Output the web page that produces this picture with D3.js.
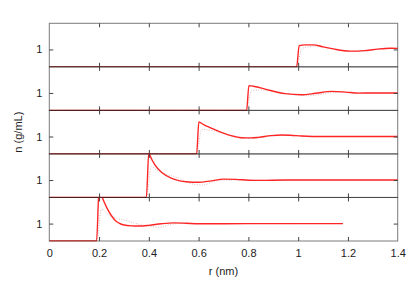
<!DOCTYPE html>
<html>
<head>
<meta charset="utf-8">
<script src="https://cdn.jsdelivr.net/npm/d3@7/dist/d3.min.js"></script>
<style>
  body { margin: 0; background: #fff; }
  svg text { font-family: "Liberation Sans", Arial, sans-serif; font-size: 11px; fill: #222; }
</style>
</head>
<body>
<svg id="chart" width="415" height="291"></svg>
<script>
// X tick labels
const xTicks = [0, 0.2, 0.4, 0.6, 0.8, 1, 1.2, 1.4];
const yTicks = [1];

// Panel 1 (top) ... Panel 5 (bottom): [r (nm), n (g/mL)]
const solid1 = [[0,0],[0.994,0],[1.004,1.22],[1.03,1.26],[1.061,1.26],[1.1,1.15],[1.141,1.03],[1.208,0.9],[1.24,0.9],[1.275,0.94],[1.32,1.02],[1.369,1.07],[1.4,1.06]];
const dotted1 = [[0,0],[0.994,0],[1.014,1.03],[1.04,1.15],[1.061,1.19],[1.1,1.12],[1.141,1.03],[1.208,0.88],[1.25,0.9],[1.3,0.97],[1.35,1.04],[1.4,1.07]];

const solid2 = [[0,0],[0.793,0],[0.802,1.42],[0.83,1.36],[0.867,1.22],[0.947,0.96],[1.014,0.9],[1.07,0.98],[1.135,1.09],[1.19,1.05],[1.242,0.99],[1.3,1.0],[1.4,1.0]];
const dotted2 = [[0,0],[0.793,0],[0.813,1.15],[0.85,1.17],[0.88,1.15],[0.947,0.99],[1.0,0.87],[1.04,0.84],[1.08,0.9],[1.12,1.0],[1.16,1.04],[1.25,1.02],[1.4,1.0]];

const solid3 = [[0,0],[0.592,0],[0.601,1.83],[0.62,1.68],[0.635,1.58],[0.653,1.47],[0.685,1.27],[0.719,1.09],[0.745,1.0],[0.773,0.93],[0.81,0.92],[0.84,0.95],[0.89,1.05],[0.934,1.09],[0.97,1.07],[1.014,1.03],[1.1,1.0],[1.4,1.0]];
const dotted3 = [[0,0],[0.592,0],[0.612,1.41],[0.635,1.38],[0.653,1.35],[0.69,1.22],[0.719,1.09],[0.75,0.97],[0.785,0.89],[0.81,0.88],[0.84,0.93],[0.9,1.04],[0.95,1.06],[1.0,1.03],[1.1,1.0],[1.4,1.0]];

const solid4 = [[0,0],[0.39,0],[0.40,2.6],[0.405,2.4],[0.425,1.86],[0.452,1.43],[0.492,1.09],[0.52,0.97],[0.55,0.9],[0.6,0.87],[0.65,0.95],[0.7,1.05],[0.75,1.04],[0.8,0.99],[0.85,0.98],[0.95,1.0],[1.4,1.0]];
const dotted4 = [[0,0],[0.39,0],[0.41,1.76],[0.43,1.6],[0.452,1.42],[0.47,1.32],[0.492,1.24],[0.52,1.1],[0.555,0.86],[0.59,0.74],[0.62,0.71],[0.64,0.8],[0.666,0.94],[0.7,1.0],[1.4,1.0]];

const solid5 = [[0,0],[0.19,0],[0.2,2.95],[0.21,2.62],[0.22,2.25],[0.235,1.8],[0.25,1.45],[0.265,1.18],[0.28,1.03],[0.3,0.92],[0.33,0.87],[0.36,0.86],[0.4,0.9],[0.45,0.99],[0.5,1.04],[0.55,1.02],[0.6,0.99],[0.7,0.99],[0.8,1.0],[1.18,1.0]];
const dotted5 = [[0,0],[0.19,0],[0.21,1.83],[0.23,1.6],[0.25,1.4],[0.27,1.3],[0.3,1.2],[0.33,1.08],[0.36,0.96],[0.4,0.85],[0.44,0.79],[0.47,0.88],[0.49,0.96],[0.52,1.0],[0.6,1.0],[1.18,1.0]];

const panels = [
  {solid: solid1, dotted: dotted1},
  {solid: solid2, dotted: dotted2},
  {solid: solid3, dotted: dotted3},
  {solid: solid4, dotted: dotted4},
  {solid: solid5, dotted: dotted5}
];

const svg = d3.select("#chart");
const mLeft = 49.3, mRight = 397.7, mTop = 23.3, mBottom = 241;
const ph = (mBottom - mTop) / panels.length;

const x = d3.scaleLinear().domain([0, 1.4]).range([mLeft, mRight]);

const defs = svg.append("defs");

panels.forEach((p, i) => {
  const y0 = mTop + i * ph;
  const y = d3.scaleLinear().domain([0, 2.5]).range([y0 + ph, y0]);
  const g = svg.append("g");
  const cid = "clip" + i;
  defs.append("clipPath").attr("id", cid)
    .append("rect").attr("x", mLeft).attr("y", y0 - 0.5).attr("width", mRight - mLeft).attr("height", ph + 1);

  const line = d3.line().x(d => x(d[0])).y(d => y(d[1])).curve(d3.curveMonotoneX);

  const dg = g.append("g").attr("clip-path", `url(#${cid})`);
  dg.append("path").datum(p.dotted).attr("d", line)
    .attr("fill", "none").attr("stroke", "#d4bcbc").attr("stroke-width", 1).attr("stroke-dasharray", "1,1.5");
  dg.append("path").datum(p.solid).attr("d", line)
    .attr("fill", "none").attr("stroke", "#ff1a1a").attr("stroke-width", 1.4).attr("stroke-opacity", 0.95);

  g.append("rect").attr("x", mLeft).attr("y", y0).attr("width", mRight - mLeft).attr("height", ph)
    .attr("fill", "none").attr("stroke", "#222").attr("stroke-width", 1).attr("stroke-opacity", 0.6);

  const ax = d3.axisBottom(x).tickValues(xTicks.slice(1, -1)).tickSize(-4).tickFormat("");
  g.append("g").attr("transform", `translate(0,${y0 + ph})`).call(ax)
    .call(s => s.select(".domain").remove())
    .call(s => s.selectAll("line").attr("stroke", "#444"));
  const axT = d3.axisTop(x).tickValues(xTicks.slice(1, -1)).tickSize(-4).tickFormat("");
  g.append("g").attr("transform", `translate(0,${y0})`).call(axT)
    .call(s => s.select(".domain").remove())
    .call(s => s.selectAll("line").attr("stroke", "#444"));

  const ay = d3.axisLeft(y).tickValues(yTicks).tickSize(-4).tickPadding(7).tickFormat(d3.format("d"));
  g.append("g").attr("transform", `translate(${mLeft},0)`).call(ay)
    .call(s => s.select(".domain").remove())
    .call(s => s.selectAll("line").attr("stroke", "#444"))
    .call(s => s.selectAll("text").attr("font-size", 11).attr("font-family", "Liberation Sans, Arial, sans-serif").attr("fill", "#222"));
  const ayR = d3.axisRight(y).tickValues(yTicks).tickSize(-4).tickFormat("");
  g.append("g").attr("transform", `translate(${mRight},0)`).call(ayR)
    .call(s => s.select(".domain").remove())
    .call(s => s.selectAll("line").attr("stroke", "#444"));
});

const axB = d3.axisBottom(x).tickValues(xTicks).tickSize(0).tickPadding(8).tickFormat(d3.format("~g"));
svg.append("g").attr("transform", `translate(0,${mBottom})`).call(axB)
  .call(s => s.select(".domain").remove())
  .call(s => s.selectAll("text").attr("font-size", 11).attr("font-family", "Liberation Sans, Arial, sans-serif").attr("fill", "#222"));

svg.append("text").attr("x", (mLeft + mRight) / 2).attr("y", 275).attr("text-anchor", "middle").text("r (nm)");
svg.append("text").attr("transform", `translate(22,${(mTop + mBottom) / 2}) rotate(-90)`)
  .attr("text-anchor", "middle").text("n (g/mL)");
</script>
</body>
</html>
